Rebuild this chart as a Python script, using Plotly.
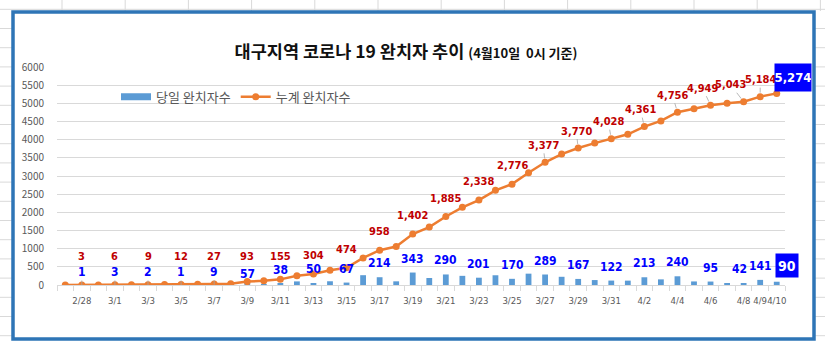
import plotly.graph_objects as go

# ---------------- data ----------------
dates = ["2/27", "2/28", "2/29", "3/1", "3/2", "3/3", "3/4", "3/5", "3/6", "3/7",
         "3/8", "3/9", "3/10", "3/11", "3/12", "3/13", "3/14", "3/15", "3/16", "3/17",
         "3/18", "3/19", "3/20", "3/21", "3/22", "3/23", "3/24", "3/25", "3/26", "3/27",
         "3/28", "3/29", "3/30", "3/31", "4/1", "4/2", "4/3", "4/4", "4/5", "4/6",
         "4/7", "4/8", "4/9", "4/10"]
daily = [1, 1, 0, 3, 1, 2, 2, 1, 6, 9,
         9, 57, 24, 38, 99, 50, 103, 67, 270, 214,
         101, 343, 193, 290, 252, 201, 268, 170, 312, 289,
         226, 167, 136, 122, 120, 213, 155, 240, 98, 95,
         52, 42, 141, 90]
cumulative = [2, 3, 3, 6, 7, 9, 11, 12, 18, 27,
              36, 93, 117, 155, 254, 304, 407, 474, 744, 958,
              1059, 1402, 1595, 1885, 2137, 2338, 2606, 2776, 3088, 3377,
              3603, 3770, 3906, 4028, 4148, 4361, 4516, 4756, 4854, 4949,
              5001, 5043, 5184, 5274]
shown_dates = ["2/28", "3/1", "3/3", "3/5", "3/7", "3/9", "3/11", "3/13", "3/15", "3/17",
               "3/19", "3/21", "3/23", "3/25", "3/27", "3/29", "3/31", "4/2", "4/4", "4/6",
               "4/8", "4/9", "4/10"]
y_ticks = [0, 500, 1000, 1500, 2000, 2500, 3000, 3500, 4000, 4500, 5000, 5500, 6000]
title_main = "대구지역 코로나 19 완치자 추이"
title_sub = "(4월10일&nbsp;&nbsp;0시 기준)"
daily_name = "당일 완치자수"
cum_name = "누계 완치자수"

# ---------------- style constants ----------------
W_FIG, H_FIG = 825, 353
L, R, T, B = 57, 40, 67, 68
PW, PH = W_FIG - L - R, H_FIG - T - B
FONT = "Noto Sans CJK KR, Noto Sans, sans-serif"
NUM_FONT = "Liberation Sans Narrow, DejaVu Sans Condensed, Liberation Sans, sans-serif"
# nudges (px) of labels that were moved in the reference
red_dx = {"3/27": -2, "3/29": -2, "3/31": -3, "4/2": -4, "4/4": -5, "4/6": -8, "4/8": -13, "4/9": 0}
blue_dy = {"3/9": -5}
blue_dx = {"4/8": -4}


def px_x(px):
    return (px - L) / PW


def px_y(py):
    return (T + PH - py) / PH


fig = go.Figure()
fig.add_trace(go.Bar(
    x=dates, y=daily, name=daily_name, showlegend=False,
    marker=dict(color="#5B9BD5", line=dict(width=0)),
))
fig.add_trace(go.Scatter(
    x=[None], y=[None], name=daily_name, mode="lines",
    line=dict(color="#5B9BD5", width=7), hoverinfo="skip",
))
fig.add_trace(go.Scatter(
    x=dates, y=cumulative, name=cum_name, mode="lines+markers",
    line=dict(color="#ED7D31", width=2.5),
    marker=dict(color="#ED7D31", size=7),
))

annotations = []
last = shown_dates[-1]
for d in shown_dates:
    i = dates.index(d)
    c = cumulative[i]
    v = daily[i]
    if d == last:
        annotations.append(dict(
            x=d, y=c, text=f"<b>{c:,}</b>", showarrow=False, xshift=16, yshift=16,
            width=36, height=27, align="center", valign="middle",
            font=dict(family=NUM_FONT, size=13, color="white"), bgcolor="#0000FF", borderpad=0))
        annotations.append(dict(
            x=d, y=v, text=f"<b>{v:,}</b>", showarrow=False, xshift=10, yshift=16,
            width=22, height=23, align="center", valign="middle",
            font=dict(family=NUM_FONT, size=14, color="white"), bgcolor="#0000FF", borderpad=0))
        continue
    # cumulative label (red)
    if d in red_dx:
        annotations.append(dict(
            x=d, y=c, text=f"<b>{c:,}</b>", showarrow=True, ax=red_dx[d], ay=-17,
            arrowhead=0, arrowwidth=0.8, arrowcolor="#A6A6A6", standoff=4,
            font=dict(family=NUM_FONT, size=11, color="#C00000")))
    else:
        annotations.append(dict(
            x=d, y=max(c, 275), text=f"<b>{c:,}</b>", showarrow=False, yshift=18.5,
            font=dict(family=NUM_FONT, size=11, color="#C00000")))
    # daily label (blue)
    dy = blue_dy.get(d, 0)
    dx = blue_dx.get(d, 0)
    if v < 10:
        annotations.append(dict(
            x=d, y=v, text=f"<b>{v:,}</b>", showarrow=True, ax=0, ay=-13,
            arrowhead=0, arrowwidth=0.8, arrowcolor="#A6A6A6", standoff=0,
            font=dict(family=NUM_FONT, size=12, color="#0000FF")))
    else:
        annotations.append(dict(
            x=d, y=v, text=f"<b>{v:,}</b>", showarrow=False, yshift=14 + dy, xshift=dx,
            font=dict(family=NUM_FONT, size=12, color="#0000FF")))

shapes = []
# spreadsheet grid stubs outside the chart frame
k = 0
while 62 + 63.2 * k < W_FIG:
    xx = 62 + 63.2 * k
    shapes.append(dict(type="line", xref="paper", yref="paper",
                       x0=px_x(xx), x1=px_x(xx), y0=px_y(0), y1=px_y(11),
                       line=dict(color="#D9D9D9", width=1)))
    k += 1
shapes.append(dict(type="line", xref="paper", yref="paper",
                   x0=px_x(0), x1=px_x(W_FIG), y0=px_y(9.3), y1=px_y(9.3),
                   line=dict(color="#D9D9D9", width=1)))
k = 1
while 9.3 + 19.2 * k < H_FIG:
    yy = 9.3 + 19.2 * k
    shapes.append(dict(type="line", xref="paper", yref="paper",
                       x0=px_x(0), x1=px_x(12), y0=px_y(yy), y1=px_y(yy),
                       line=dict(color="#D9D9D9", width=1)))
    shapes.append(dict(type="line", xref="paper", yref="paper",
                       x0=px_x(815), x1=px_x(W_FIG), y0=px_y(yy), y1=px_y(yy),
                       line=dict(color="#D9D9D9", width=1)))
    k += 1
# chart frame
shapes.append(dict(type="rect", xref="paper", yref="paper",
                   x0=px_x(13), x1=px_x(814), y0=px_y(12), y1=px_y(339),
                   line=dict(color="#2E75B6", width=3.5), fillcolor="rgba(0,0,0,0)"))

fig.update_layout(
    width=W_FIG, height=H_FIG,
    margin=dict(l=L, r=R, t=T, b=B),
    paper_bgcolor="white", plot_bgcolor="white",
    font=dict(family=FONT, color="#595959"),
    bargap=0.65,
    title=dict(
        text=f"<b>{title_main}</b> <b><span style='font-size:13px'>{title_sub}</span></b>",
        x=406 / W_FIG, xanchor="center", xref="container",
        y=1 - 51.7 / H_FIG, yanchor="middle", yref="container",
        font=dict(family=FONT, size=17.5, color="#111111")),
    legend=dict(orientation="h", x=px_x(116), y=px_y(96.7), xanchor="left", yanchor="middle",
                font=dict(family=FONT, size=13, color="#595959"), bgcolor="rgba(0,0,0,0)",
                traceorder="normal", itemwidth=30),
    xaxis=dict(type="category", categoryorder="array", categoryarray=dates,
               range=[-0.5, len(dates) - 0.5],
               tickmode="array", tickvals=dates,
               ticktext=[d if d in shown_dates else "" for d in dates],
               tickson="boundaries", ticks="outside", ticklen=5, tickcolor="#D9D9D9",
               showline=True, linecolor="#D9D9D9", linewidth=1, showgrid=False,
               tickangle=0, ticklabelstandoff=7,
               tickfont=dict(family=NUM_FONT, size=9.5, color="#595959"), fixedrange=True),
    yaxis=dict(range=[0, 6000], tickmode="array", tickvals=y_ticks,
               showgrid=True, gridcolor="#D9D9D9", gridwidth=1, zeroline=False,
               showline=False, ticks="", ticklabelstandoff=12,
               tickfont=dict(family=FONT, size=10, color="#595959"), fixedrange=True),
    annotations=annotations,
    shapes=shapes,
    showlegend=True,
)

fig.write_html("out.html")
